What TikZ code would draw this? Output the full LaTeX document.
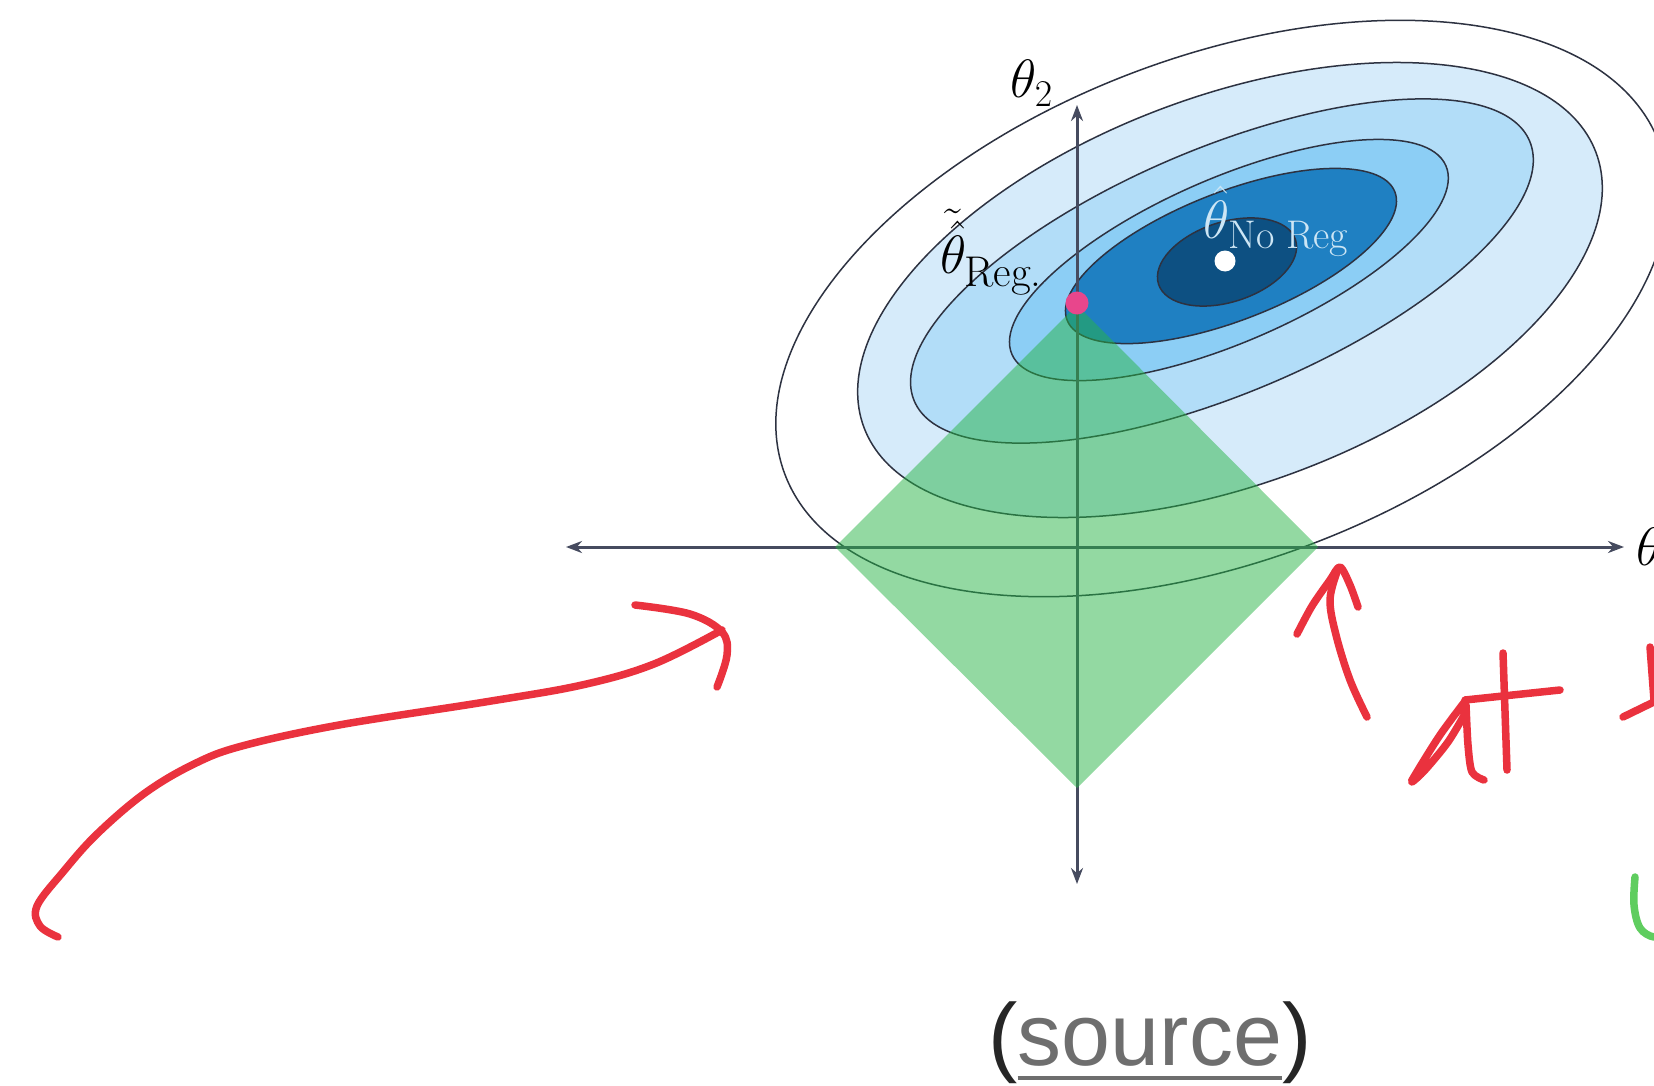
\RequirePackage{fix-cm}
\documentclass[tikz,border=0pt]{standalone}
\usepackage{fontspec}
\newfontfamily\srcfont{Liberation Sans}
\usetikzlibrary{arrows.meta}
\definecolor{axiscol}{RGB}{70,75,95}
\definecolor{linecol}{RGB}{45,50,65}
\definecolor{bA}{RGB}{214,235,250}
\definecolor{bB}{RGB}{178,221,248}
\definecolor{bC}{RGB}{140,206,245}
\definecolor{bD}{RGB}{31,128,194}
\definecolor{bE}{RGB}{13,80,130}
\definecolor{diag}{RGB}{40,180,70}
\definecolor{pinkdot}{RGB}{232,70,140}
\definecolor{redink}{RGB}{234,50,62}
\definecolor{greenink}{RGB}{95,205,95}
\definecolor{srcgray}{RGB}{110,110,110}
\definecolor{nolabel}{RGB}{205,230,245}
\begin{document}
\begin{tikzpicture}[x=1pt,y=-1pt,
  every node/.style={inner sep=0pt},
  contour/.style={draw=linecol,line width=1.5pt},
  axisline/.style={draw=axiscol,line width=3pt,arrows={Stealth[length=16pt,width=12pt]-Stealth[length=16pt,width=12pt]}},
  ink/.style={draw=redink,line width=7.5pt,line cap=round,line join=round},
  greenstroke/.style={draw=greenink,line width=7.5pt,line cap=round,line join=round},
  lbl/.style={font=\fontsize{54}{60}\selectfont},
  srcstyle/.style={font=\srcfont\fontsize{88}{96}\selectfont}]
\useasboundingbox (0,0) rectangle (1654,1086);
\clip (0,0) rectangle (1654,1086);
\fill[white] (0,0) rectangle (1654,1086);

% contours (outer to inner)
\coordinate (c1) at (1222,308.5);
\coordinate (c2) at (1230,290);
\coordinate (c3) at (1222,271);
\coordinate (c4) at (1229,260);
\coordinate (c5) at (1231,256);
\coordinate (c6) at (1227,262);
\path[contour,fill=white,rotate around={20.8:(c1)}] (c1) ellipse [x radius=467.5, y radius=252];
\path[contour,fill=bA,rotate around={20.6:(c2)}] (c2) ellipse [x radius=391, y radius=193.6];
\path[contour,fill=bB,rotate around={22.9:(c3)}] (c3) ellipse [x radius=334, y radius=122.5];
\path[contour,fill=bC,rotate around={23.5:(c4)}] (c4) ellipse [x radius=236.6, y radius=81.9];
\path[contour,fill=bD,rotate around={21.4:(c5)}] (c5) ellipse [x radius=176, y radius=64];
\path[contour,fill=bE,rotate around={18:(c6)}] (c6) ellipse [x radius=72, y radius=40];

% axes
\coordinate (xl) at (566,547);
\coordinate (xr) at (1624,547);
\coordinate (yt) at (1077,105);
\coordinate (yb) at (1077,884);
\draw[axisline] (xl) -- (xr);
\draw[axisline] (yb) -- (yt);

% diamond
\coordinate (dl) at (835,547);
\coordinate (dt) at (1077,305);
\coordinate (dr) at (1318,547);
\coordinate (db) at (1077,788);
\fill[diag,fill opacity=0.5] (dl) -- (dt) -- (dr) -- (db) -- cycle;

% points
\node[circle,fill=pinkdot,minimum size=23pt] (preg) at (1077,303) {};
\node[circle,fill=white,minimum size=21pt] (pnoreg) at (1225,261) {};

% labels
\node[lbl,anchor=base west] (lt2) at (1010,98) {$\theta_2$};
\node[lbl,anchor=base west] (lt1) at (1636,565) {$\theta_1$};
\node[lbl,anchor=base west] (lreg) at (940,273) {$\tilde{\hat{\theta}}$\kern-2pt\raisebox{-13pt}{\fontsize{43}{48}\selectfont Reg.}};
\node[lbl,anchor=base west,text=nolabel] (lnoreg) at (1203,238) {$\hat{\theta}$\kern-1pt\raisebox{-10pt}{\fontsize{40}{44}\selectfont No Reg}};

% source
\node[srcstyle,anchor=base,text=srcgray] (src) at (1150,1065) {source};
\node[srcstyle,anchor=base east,text=black!85] (lp) at (src.base west) {(};
\node[srcstyle,anchor=base west,text=black!85] (rp) at (src.base east) {)};
\draw[srcgray,line width=4pt] ([yshift=-13pt]src.base west) -- ([yshift=-13pt]src.base east);

% red handwritten arrow (left)
\draw[ink] plot[smooth,tension=0.6] coordinates {(58,937) (40,926) (37,906) (63,872) (97,834) (145,793) (194,764) (242,746) (339,725) (485,702) (582,685) (654,664) (722,630)};
\draw[ink] plot[smooth,tension=0.6] coordinates {(635,605) (690,614) (722,632) (727,655) (717,687)};

% red up arrow
\draw[ink] plot[smooth,tension=0.6] coordinates {(1367,717) (1350,680) (1336,635) (1330,600) (1337,572)};
\draw[ink] plot[smooth,tension=0.5] coordinates {(1297,634) (1312,606) (1330,580) (1340,567) (1350,585) (1358,607)};

% "at"
\draw[ink] plot[smooth,tension=0.5] coordinates {(1466,700) (1440,735) (1415,775) (1412,782) (1425,770) (1448,742) (1466,712)};
\draw[ink] plot[smooth,tension=0.5] coordinates {(1466,705) (1468,745) (1472,772) (1484,780)};
\draw[ink] (1503,653) -- (1507,770);
\draw[ink] (1465,700) -- (1560,690);
% partial letter at the right edge
\draw[ink] (1650,647) -- (1654,700);
\draw[ink] (1623,717) -- (1662,698);

% green partial letter
\draw[greenstroke] plot[smooth,tension=0.6] coordinates {(1635,877) (1634,905) (1640,928) (1654,937) (1666,932)};
\end{tikzpicture}
\end{document}
